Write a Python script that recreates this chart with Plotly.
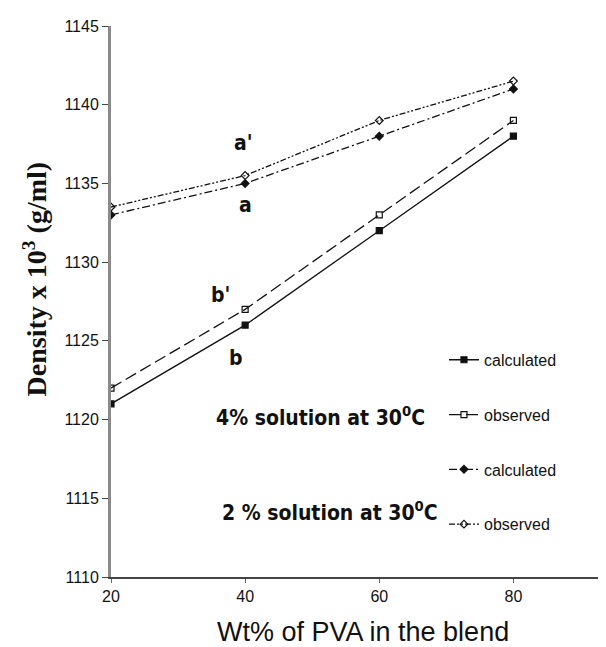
import plotly.graph_objects as go

wt_pva = [20, 40, 60, 80]
calc_4pct = [1121, 1126, 1132, 1138]
obs_4pct = [1122, 1127, 1133, 1139]
calc_2pct = [1133, 1135, 1138, 1141]
obs_2pct = [1133.5, 1135.5, 1139, 1141.5]

x_ticks = [20, 40, 60, 80]
y_ticks = [1110, 1115, 1120, 1125, 1130, 1135, 1140, 1145]

series = [
    ("calculated", calc_4pct, "solid", "square", "g1"),
    ("observed", obs_4pct, "12px,5px", "square-open", "g2"),
    ("calculated", calc_2pct, "8px,3px,2px,3px", "diamond", "g3"),
    ("observed", obs_2pct, "6px,2px,2px,2px,2px,2px", "diamond-open", "g4"),
]

fig = go.Figure()
for name, vals, dash, sym, grp in series:
    fig.add_trace(go.Scatter(
        x=wt_pva, y=vals, name=name, mode="lines+markers", legendgroup=grp,
        line=dict(color="#111111", width=1.3, dash=dash),
        marker=dict(symbol=sym, size=6, color="#111111",
                    line=dict(color="#111111", width=1.2)),
    ))

label_font = dict(family="DejaVu Sans Condensed, Liberation Sans Narrow, Arial", size=21, color="#111111")
ann = [
    dict(x=39.8, y=1137.55, text="<b>a'</b>"),
    dict(x=40.1, y=1133.6, text="<b>a</b>"),
    dict(x=36.4, y=1127.9, text="<b>b'</b>"),
    dict(x=38.6, y=1123.9, text="<b>b</b>"),
]
for a in ann:
    fig.add_annotation(x=a["x"], y=a["y"], text=a["text"], showarrow=False,
                       font=label_font, xanchor="center", yanchor="middle")

fig.add_annotation(x=35.3, y=1120.2, text="<b>4% solution at 30<sup>0</sup>C</b>",
                   showarrow=False, font=label_font, xanchor="left", yanchor="middle")
fig.add_annotation(x=36.2, y=1114.2, text="<b>2 % solution at 30<sup>0</sup>C</b>",
                   showarrow=False, font=label_font, xanchor="left", yanchor="middle")

# axis titles
fig.add_annotation(x=0, y=0.54, xref="paper", yref="paper", xshift=-76,
                   text="<b>Density x 10<sup>3</sup> (g/ml)</b>", textangle=-90,
                   showarrow=False, xanchor="center", yanchor="middle",
                   font=dict(family="Liberation Serif, Times New Roman, serif", size=28, color="#111111"))
fig.add_annotation(x=0.5, y=0, xref="paper", yref="paper", yshift=-72,
                   text="Wt% of PVA in the blend", showarrow=False,
                   xanchor="center", yanchor="bottom",
                   font=dict(family="Liberation Sans, Arial", size=27, color="#111111"))

fig.update_layout(
    width=606, height=647,
    margin=dict(l=103, r=0, t=18, b=78),
    paper_bgcolor="white", plot_bgcolor="white",
    showlegend=True,
    legend=dict(x=0.662, y=0.425, xanchor="left", yanchor="top",
                font=dict(family="Liberation Sans, Arial", size=16, color="#111111"),
                tracegroupgap=31, bgcolor="rgba(0,0,0,0)"),
    xaxis=dict(range=[20, 95], tickvals=x_ticks, ticktext=[str(v) for v in x_ticks],
               showgrid=False, zeroline=False, showline=True, linecolor="#444444",
               linewidth=1.5, ticks="outside", ticklen=4, tickcolor="#666666",
               tickfont=dict(family="Liberation Sans, Arial", size=16, color="#111111")),
    yaxis=dict(range=[1110, 1145], tickvals=y_ticks, ticktext=[str(v) for v in y_ticks],
               showgrid=False, zeroline=False, showline=True, linecolor="#8a8a8a",
               linewidth=3, ticks="outside", ticklen=6, tickcolor="#444444",
               tickfont=dict(family="Liberation Sans, Arial", size=16, color="#111111")),
)

fig.write_html("out.html")
